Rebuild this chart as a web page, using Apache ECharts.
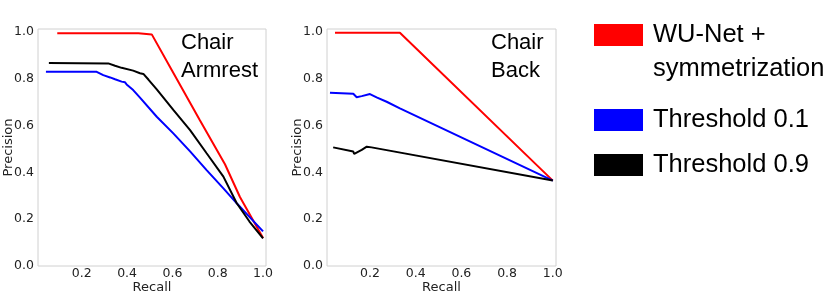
<!DOCTYPE html>
<html>
<head>
<meta charset="utf-8">
<script src="https://cdn.jsdelivr.net/npm/echarts@6/dist/echarts.min.js"></script>
<style>
html,body{margin:0;padding:0;background:#fff;}
#chart{width:829px;height:296px;}
</style>
</head>
<body>
<div id="chart"></div>
<script>
// ---- data (recall, precision) ----
const seriesNames = ['WU-Net +\nsymmetrization', 'Threshold 0.1', 'Threshold 0.9'];
const panelTitles = ['Chair\nArmrest', 'Chair\nBack'];
const xTickValues = [0.2, 0.4, 0.6, 0.8, 1.0];
const yTickValues = [0.0, 0.2, 0.4, 0.6, 0.8, 1.0];

const redArmrest = [[0.092,0.995],[0.45,0.995],[0.509,0.99],[0.597,0.838],[0.72,0.625],[0.832,0.435],[0.898,0.295],[1.0,0.12]];
const blueArmrest = [[0.042,0.830],[0.266,0.830],[0.295,0.816],[0.325,0.806],[0.347,0.798],[0.376,0.788],[0.391,0.785],[0.398,0.776],[0.427,0.752],[0.457,0.720],[0.531,0.638],[0.604,0.567],[0.678,0.490],[0.751,0.410],[0.825,0.332],[0.884,0.268],[0.94,0.21],[1.0,0.148]];
const blackArmrest = [[0.055,0.868],[0.317,0.866],[0.347,0.856],[0.376,0.847],[0.427,0.835],[0.457,0.824],[0.472,0.821],[0.494,0.797],[0.531,0.755],[0.604,0.667],[0.678,0.581],[0.751,0.482],[0.825,0.382],[0.884,0.268],[0.94,0.19],[1.0,0.118]];

const redBack = [[0.047,0.997],[0.331,0.997],[1.0,0.365]];
const blueBack = [[0.025,0.741],[0.127,0.736],[0.134,0.734],[0.142,0.721],[0.164,0.726],[0.2,0.735],[0.229,0.721],[0.273,0.702],[0.331,0.674],[1.0,0.365]];
const blackBack = [[0.039,0.507],[0.127,0.489],[0.131,0.479],[0.164,0.496],[0.186,0.51],[0.207,0.507],[1.0,0.365]];

const colors = ['#ff0000', '#0000ff', '#000000'];

const chart = echarts.init(document.getElementById('chart'), null, {renderer: 'canvas'});

function xAxisCfg(idx, min, max) {
  return {
    type: 'value', gridIndex: idx, min: min, max: max,
    name: 'Recall', nameLocation: 'middle', nameGap: 15, nameMoveOverlap: false,
    nameTextStyle: {fontFamily: 'DejaVu Sans', fontSize: 13, color: '#222'},
    axisLine: {show: false}, axisTick: {show: false}, splitLine: {show: false},
    axisLabel: {customValues: xTickValues, margin: 1, fontFamily: 'DejaVu Sans', fontSize: 12.5, color: '#222',
      formatter: v => v.toFixed(1)}
  };
}
function yAxisCfg(idx) {
  return {
    type: 'value', gridIndex: idx, min: 0, max: 1.013,
    name: 'Precision', nameLocation: 'middle', nameGap: 23, nameMoveOverlap: false,
    nameTextStyle: {fontFamily: 'DejaVu Sans', fontSize: 13, color: '#222'},
    axisLine: {show: false}, axisTick: {show: false}, splitLine: {show: false},
    axisLabel: {customValues: yTickValues, margin: 4, fontFamily: 'DejaVu Sans', fontSize: 12.5, color: '#222',
      formatter: v => v.toFixed(1)}
  };
}
function lineSeries(name, data, color, gi) {
  return {
    type: 'line', name: name, data: data, xAxisIndex: gi, yAxisIndex: gi,
    showSymbol: false, symbol: 'none', smooth: false,
    lineStyle: {color: color, width: 2}, itemStyle: {color: color},
    z: 2
  };
}

const legendFont = {fontFamily: 'Liberation Sans', fontSize: 25.5};

chart.setOption({
  animation: false,
  backgroundColor: '#fff',
  grid: [
    {left: 38, top: 29, width: 228, height: 237, outerBoundsMode: 'none', containLabel: false, show: true, borderColor: '#d0d0d0', borderWidth: 1, backgroundColor: 'transparent'},
    {left: 327, top: 29, width: 229, height: 237, outerBoundsMode: 'none', containLabel: false, show: true, borderColor: '#d0d0d0', borderWidth: 1, backgroundColor: 'transparent'}
  ],
  xAxis: [xAxisCfg(0, 0.007, 1.013), xAxisCfg(1, 0.012, 1.014)],
  yAxis: [yAxisCfg(0), yAxisCfg(1)],
  legend: [
    {data: [seriesNames[1], seriesNames[2]], left: 594, top: 107, padding: 0, orient: 'vertical', icon: 'rect', itemWidth: 49, itemHeight: 22,
     itemGap: 19, selectedMode: false, textStyle: Object.assign({color: '#000', padding: [0, 0, 0, 5]}, legendFont)}
  ],
  graphic: [
    {type: 'text', left: 181, top: 29, style: {text: panelTitles[0], fontFamily: 'Liberation Sans', fontSize: 22, lineHeight: 28, fill: '#000'}},
    {type: 'text', left: 491, top: 29, style: {text: panelTitles[1], fontFamily: 'Liberation Sans', fontSize: 22, lineHeight: 28, fill: '#000'}},
    {type: 'rect', left: 594, top: 24, shape: {width: 49, height: 22}, style: {fill: colors[0]}},
    {type: 'text', left: 653, top: 18, style: {text: seriesNames[0], fontFamily: legendFont.fontFamily, fontSize: legendFont.fontSize, lineHeight: 34, fill: '#000'}}
  ],
  series: [
    lineSeries(seriesNames[0], redArmrest, colors[0], 0),
    lineSeries(seriesNames[1], blueArmrest, colors[1], 0),
    lineSeries(seriesNames[2], blackArmrest, colors[2], 0),
    lineSeries(seriesNames[0], redBack, colors[0], 1),
    lineSeries(seriesNames[1], blueBack, colors[1], 1),
    lineSeries(seriesNames[2], blackBack, colors[2], 1)
  ]
});
</script>
</body>
</html>
